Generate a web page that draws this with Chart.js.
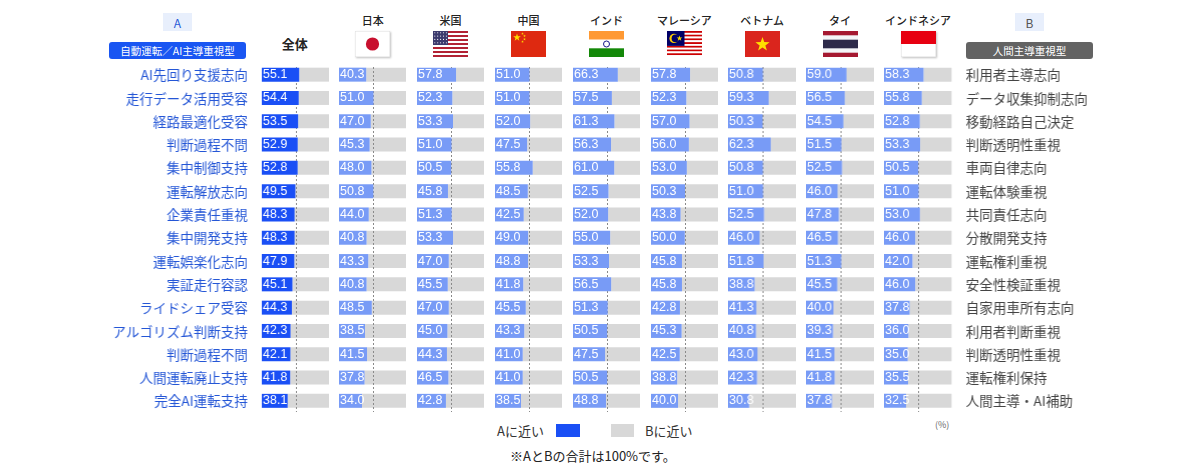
<!DOCTYPE html>
<html lang="ja">
<head>
<meta charset="utf-8">
<script src="https://cdn.jsdelivr.net/npm/chart.js@4"></script>
<style>
  html, body { margin: 0; padding: 0; background: #fff; }
  #stage { position: relative; width: 1200px; height: 472px; overflow: hidden;
           font-family: "Noto Sans CJK JP", "Noto Sans", sans-serif; color: #222; }
  .abs { position: absolute; }
  .box { position: absolute; display: flex; align-items: center; justify-content: center; }
  .country { position: absolute; top: 12px; width: 90px; text-align: center; font-size: 11px; font-weight: 500; }
  .flag { position: absolute; top: 31px; width: 35px; height: 26px; }
  .col { position: absolute; top: 62.5px; height: 349.5px; }
</style>
</head>
<body>
<div id="stage">
  <div class="box" style="left:163px;top:13px;width:29px;height:18px;background:#e8effc;color:#2a5bd7;font-size:12px;">A</div>
  <div class="box" style="left:109px;top:42px;width:137px;height:17px;background:#1a56f2;border-radius:3px;color:#fff;font-size:10.5px;">自動運転／AI主導重視型</div>
  <div class="box" style="left:1015px;top:13px;width:29px;height:18px;background:#e8effc;color:#555;font-size:12px;">B</div>
  <div class="box" style="left:966px;top:42px;width:127px;height:17px;background:#636363;border-radius:3px;color:#fff;font-size:10.5px;">人間主導重視型</div>

  <div class="abs" style="left:497px;top:421px;font-size:13px;color:#333;">Aに近い</div>
  <div class="abs" style="left:556px;top:424px;width:24px;height:13px;background:#1a4ff5;"></div>
  <div class="abs" style="left:611px;top:424px;width:23px;height:13px;background:#d8d8d8;"></div>
  <div class="abs" style="left:645px;top:421px;font-size:13px;color:#333;">Bに近い</div>
  <div class="abs" style="left:935px;top:418px;font-size:9px;color:#666;">(%)</div>
  <div class="abs" style="left:510px;top:446px;font-size:13px;color:#222;">※AとBの合計は100%です。</div>
</div>
<script>
// rows: A side (left) and B side (right)
const labelsA = ['AI先回り支援志向', '走行データ活用受容', '経路最適化受容', '判断過程不問', '集中制御支持',
  '運転解放志向', '企業責任重視', '集中開発支持', '運転娯楽化志向', '実証走行容認',
  'ライドシェア受容', 'アルゴリズム判断支持', '判断過程不問', '人間運転廃止支持', '完全AI運転支持'];
const labelsB = ['利用者主導志向', 'データ収集抑制志向', '移動経路自己決定', '判断透明性重視', '車両自律志向',
  '運転体験重視', '共同責任志向', '分散開発支持', '運転権利重視', '安全性検証重視',
  '自家用車所有志向', '利用者判断重視', '判断透明性重視', '運転権利保持', '人間主導・AI補助'];

const countries = ['全体', '日本', '米国', '中国', 'インド', 'マレーシア', 'ベトナム', 'タイ', 'インドネシア'];

// share answering "closer to A" (%), per country
const total     = [55.1, 54.4, 53.5, 52.9, 52.8, 49.5, 48.3, 48.3, 47.9, 45.1, 44.3, 42.3, 42.1, 41.8, 38.1];
const japan     = [40.3, 51.0, 47.0, 45.3, 48.0, 50.8, 44.0, 40.8, 43.3, 40.8, 48.5, 38.5, 41.5, 37.8, 34.0];
const usa       = [57.8, 52.3, 53.3, 51.0, 50.5, 45.8, 51.3, 53.3, 47.0, 45.5, 47.0, 45.0, 44.3, 46.5, 42.8];
const china     = [51.0, 51.0, 52.0, 47.5, 55.8, 48.5, 42.5, 49.0, 48.8, 41.8, 45.5, 43.3, 41.0, 41.0, 38.5];
const india     = [66.3, 57.5, 61.3, 56.3, 61.0, 52.5, 52.0, 55.0, 53.3, 56.5, 51.3, 50.5, 47.5, 50.5, 48.8];
const malaysia  = [57.8, 52.3, 57.0, 56.0, 53.0, 50.3, 43.8, 50.0, 45.8, 45.8, 42.8, 45.3, 42.5, 38.8, 40.0];
const vietnam   = [50.8, 59.3, 50.3, 62.3, 50.8, 51.0, 52.5, 46.0, 51.8, 38.8, 41.3, 40.8, 43.0, 42.3, 30.8];
const thailand  = [59.0, 56.5, 54.5, 51.5, 52.5, 46.0, 47.8, 46.5, 51.3, 45.5, 40.0, 39.3, 41.5, 41.8, 37.8];
const indonesia = [58.3, 55.8, 52.8, 53.3, 50.5, 51.0, 53.0, 46.0, 42.0, 46.0, 37.8, 36.0, 35.0, 35.5, 32.5];

const seriesA = [total, japan, usa, china, india, malaysia, vietnam, thailand, indonesia];

const BLUE = '#1a4ff5';
const LIGHT_BLUE = '#789bf6';
const GRAY = '#d8d8d8';
const COL_LEFT = 261, COL_PITCH = 77.9, BAR_W = 67.6;

const stage = document.getElementById('stage');

function star(cx, cy, r, rot) {
  let pts = [];
  for (let k = 0; k < 10; k++) {
    const rr = k % 2 ? r * 0.4 : r;
    const a = (rot || 0) - Math.PI / 2 + k * Math.PI / 5;
    pts.push((cx + rr * Math.cos(a)).toFixed(2) + ',' + (cy + rr * Math.sin(a)).toFixed(2));
  }
  return `<polygon points="${pts.join(' ')}" fill="#ffde00"/>`;
}

function stripes(n, c1, c2) {
  let s = '';
  const h = 26 / n;
  for (let k = 0; k < n; k++) s += `<rect x="0" y="${k * h}" width="35" height="${h + 0.05}" fill="${k % 2 ? c2 : c1}"/>`;
  return s;
}

const flags = {
  '日本': `<rect width="35" height="26" fill="#fff" stroke="#ddd"/><circle cx="17.5" cy="13" r="6.6" fill="#c8102e"/>`,
  '米国': stripes(13, '#b22234', '#fff') + `<rect width="15" height="14" fill="#3c3b6e"/>` +
          Array.from({length: 20}, (_, k) => `<circle cx="${1.8 + (k % 5) * 2.9}" cy="${1.8 + Math.floor(k / 5) * 3.3}" r="0.55" fill="#fff"/>`).join(''),
  '中国': `<rect width="35" height="26" fill="#de2910"/>` + star(6, 6.5, 4) +
          star(11.5, 2.6, 1.4) + star(13.5, 5, 1.4) + star(13.5, 8.3, 1.4) + star(11.5, 10.6, 1.4),
  'インド': `<rect width="35" height="8.7" fill="#ff9933"/><rect y="8.7" width="35" height="8.7" fill="#fff"/>` +
          `<rect y="17.3" width="35" height="8.7" fill="#138808"/><circle cx="17.5" cy="13" r="3" fill="none" stroke="#000080" stroke-width="0.9"/>`,
  'マレーシア': stripes(14, '#cc0001', '#fff') + `<rect width="17.5" height="14.9" fill="#010066"/>` +
          `<circle cx="7" cy="7.4" r="4.6" fill="#fc0"/><circle cx="8.4" cy="7.4" r="3.8" fill="#010066"/>` + star(12.5, 7.4, 3),
  'ベトナム': `<rect width="35" height="26" fill="#da251d"/>` + star(17.5, 13.5, 7.5),
  'タイ': `<rect width="35" height="26" fill="#a51931"/><rect y="4.3" width="35" height="17.4" fill="#f4f5f8"/>` +
          `<rect y="8.7" width="35" height="8.6" fill="#2d2a4a"/>`,
  'インドネシア': `<rect width="35" height="26" fill="#fff" stroke="#ddd"/><rect width="35" height="13" fill="#e70011"/>`
};

// Draw the 50% dotted line after the gray part, before the A bars
const midLine = {
  id: 'midLine',
  afterDatasetDraw(chart, args) {
    if (args.index !== 1) return;
    const {ctx, chartArea} = chart;
    const x = Math.round(chart.scales.x.getPixelForValue(50)) + 0.5;
    ctx.save();
    ctx.strokeStyle = '#8a8a8a';
    ctx.lineWidth = 1;
    ctx.setLineDash([2, 2]);
    ctx.beginPath();
    ctx.moveTo(x, chartArea.top + 4);
    ctx.lineTo(x, chartArea.bottom);
    ctx.stroke();
    ctx.restore();
  }
};

const valueLabels = {
  id: 'valueLabels',
  afterDatasetsDraw(chart) {
    const {ctx} = chart;
    const meta = chart.getDatasetMeta(0);
    const data = chart.data.datasets[0].data;
    ctx.save();
    ctx.fillStyle = '#fff';
    ctx.font = '12.5px "Liberation Sans", Arial, sans-serif';
    ctx.textAlign = 'left';
    ctx.textBaseline = 'middle';
    meta.data.forEach((bar, k) => {
      ctx.fillText(data[k].toFixed(1), bar.base + 1, bar.y);
    });
    ctx.restore();
  }
};

// row names drawn beside the chart area, placed with the y scale
const rowNames = {
  id: 'rowNames',
  afterDraw(chart, args, opts) {
    if (!opts.labels) return;
    const {ctx, chartArea} = chart;
    const y = chart.scales.y;
    ctx.save();
    ctx.fillStyle = opts.color;
    ctx.font = '13.5px "Noto Sans CJK JP", sans-serif';
    ctx.textBaseline = 'middle';
    ctx.textAlign = opts.side === 'left' ? 'right' : 'left';
    const x = opts.side === 'left' ? chartArea.left - 14 : chartArea.right + 14;
    opts.labels.forEach((lab, k) => ctx.fillText(lab, x, y.getPixelForValue(k) + 0.5));
    ctx.restore();
  }
};

countries.forEach((name, i) => {
  const left = COL_LEFT + i * COL_PITCH;
  const center = left + BAR_W / 2;
  const first = i === 0, last = i === countries.length - 1;

  if (first) {
    const t = document.createElement('div');
    t.className = 'abs';
    t.style.cssText = `left:${center - 40}px;top:34px;width:80px;text-align:center;font-size:13px;font-weight:700;`;
    t.textContent = name;
    stage.appendChild(t);
  } else {
    const t = document.createElement('div');
    t.className = 'country';
    t.style.left = (center - 45) + 'px';
    t.textContent = name;
    stage.appendChild(t);
    const f = document.createElement('div');
    f.className = 'flag';
    f.style.left = (center - 17.5) + 'px';
    if (name === '日本' || name === 'インドネシア') f.style.boxShadow = '1px 1px 2px rgba(0,0,0,0.25)';
    f.innerHTML = `<svg width="35" height="26" viewBox="0 0 35 26">${flags[name]}</svg>`;
    stage.appendChild(f);
  }

  const boxLeft = first ? 0 : left;
  const boxWidth = first ? left + BAR_W : (last ? 1200 - left : BAR_W);
  const sideWidth = first ? left : (last ? 1200 - left - BAR_W : 0);

  const col = document.createElement('div');
  col.className = 'col';
  col.style.left = boxLeft + 'px';
  col.style.width = boxWidth + 'px';
  const canvas = document.createElement('canvas');
  col.appendChild(canvas);
  stage.appendChild(col);

  const valsA = seriesA[i];
  const valsB = valsA.map(v => +(100 - v).toFixed(1)); // A + B = 100%

  new Chart(canvas, {
    type: 'bar',
    data: {
      labels: labelsA,
      datasets: [
        { label: 'Aに近い', data: valsA, backgroundColor: first ? BLUE : LIGHT_BLUE,
          barPercentage: 0.6, categoryPercentage: 1, borderWidth: 0 },
        { label: 'Bに近い', data: valsB, backgroundColor: GRAY,
          barPercentage: 0.6, categoryPercentage: 1, borderWidth: 0 }
      ]
    },
    options: {
      indexAxis: 'y',
      responsive: true,
      maintainAspectRatio: false,
      animation: false,
      layout: { padding: { left: first ? sideWidth : 0, right: last ? sideWidth : 0, top: 0, bottom: 0 } },
      plugins: {
        legend: { display: false },
        tooltip: { enabled: false },
        rowNames: first ? { labels: labelsA, side: 'left', color: '#2456d6' }
                        : last ? { labels: labelsB, side: 'right', color: '#444' } : {}
      },
      scales: {
        x: { stacked: true, min: 0, max: 100, display: false },
        y: { stacked: true, display: false }
      }
    },
    plugins: [midLine, valueLabels, rowNames]
  });
});
</script>
</body>
</html>
